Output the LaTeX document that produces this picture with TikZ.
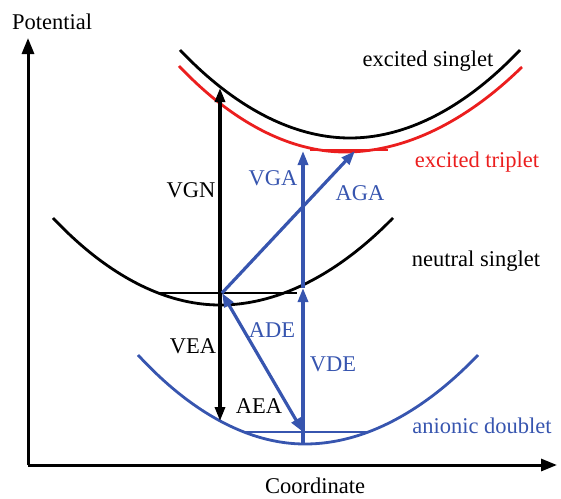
\documentclass[tikz,border=0pt]{standalone}
\usepackage{fontspec}
\setmainfont{Liberation Serif}
\usetikzlibrary{arrows.meta}
\definecolor{dblue}{RGB}{55,85,175}
\definecolor{dred}{RGB}{235,30,30}
\begin{document}
\begin{tikzpicture}[x=1pt,y=-1pt,
  lbl/.style={font=\fontsize{22.5}{26}\selectfont, inner sep=0pt, anchor=base},
  curve/.style={line width=2.8pt},
  arr/.style={line width=3.2pt, -{Triangle[length=14pt,width=10pt]}},
  darr/.style={line width=3.2pt, {Triangle[length=14pt,width=10pt]}-{Triangle[length=14pt,width=10pt]}},
  axis/.style={line width=3pt, -{Triangle[length=16pt,width=12pt]}}]
\useasboundingbox (0,0) rectangle (561,498);
% axes
\coordinate (O) at (28,465);
\coordinate (ytop) at (28,38);
\coordinate (xend) at (557,465);
\draw[axis] (O) -- (ytop);
\draw[axis] (O) -- (xend);
\node[lbl, anchor=base] (pot) at (52,29) {Potential};
\node[lbl, anchor=base] (coord) at (315,493) {Coordinate};
% curves
\draw[curve] (180,50) parabola bend (350,138) (520,50);
\draw[curve, dred] (179,66) parabola bend (345,152) (522,67);
\draw[line width=2pt, dred] (310,150) -- (388,150);
\draw[curve] (53,218) parabola bend (220,305) (393,218);
\draw[line width=2.8pt] (160,293) -- (297,293);
\draw[curve, dblue] (138,355) parabola bend (305,444) (478,355);
\draw[line width=2.8pt, dblue] (244,432) -- (369,432);
% key points
\coordinate (n0) at (220,293);
\coordinate (es) at (220,88);
\coordinate (an) at (220,421);
\coordinate (a0) at (303,444);
\coordinate (nv) at (303,288);
\coordinate (tv) at (303,151);
\coordinate (am) at (303,432);
\coordinate (nm) at (222,293);
\coordinate (tm) at (355,151);
% arrows
\draw[arr] (n0) -- (es);
\draw[arr] (n0) -- (an);
\draw[line width=3.2pt, dblue] (a0) -- (am);
\draw[arr, dblue] (am) -- (nv);
\draw[arr, dblue] (nv) -- (tv);
\draw[darr, dblue] (am) -- (nm);
\draw[arr, dblue] (nm) -- (tm);
% labels
\node[lbl] (es1) at (428,66) {excited singlet};
\node[lbl, text=dred] (et) at (477,167) {excited triplet};
\node[lbl] (ns) at (476,266) {neutral singlet};
\node[lbl, text=dblue] (ad) at (482,433) {anionic doublet};
\node[lbl] (vgn) at (191,197) {VGN};
\node[lbl, text=dblue] (vga) at (273,185) {VGA};
\node[lbl, text=dblue] (aga) at (360,200) {AGA};
\node[lbl, text=dblue] (ade) at (272,337) {ADE};
\node[lbl] (vea) at (193,353) {VEA};
\node[lbl, text=dblue] (vde) at (333,371) {VDE};
\node[lbl] (aea) at (259,413) {AEA};
\end{tikzpicture}
\end{document}
